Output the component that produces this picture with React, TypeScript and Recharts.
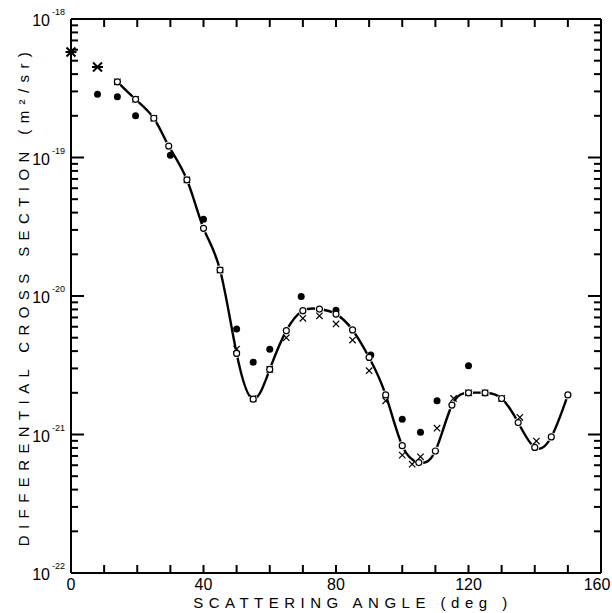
import { ComposedChart, Line, Scatter, XAxis, YAxis } from 'recharts'

// open circles (these carry the smooth curve)
const openAngle = [14, 19.5, 25, 29.5, 35, 40, 45, 50, 55, 60, 65, 70, 75, 80, 85, 90, 95, 100, 105, 110, 115, 120, 125, 130, 135, 140, 145, 150]
const openSigma = [3.52e-19, 2.63e-19, 1.92e-19, 1.21e-19, 6.9e-20, 3.08e-20, 1.54e-20, 3.85e-21, 1.8e-21, 2.95e-21, 5.62e-21, 7.83e-21, 8.05e-21, 7.4e-21, 5.69e-21, 3.6e-21, 1.93e-21, 8.3e-22, 6.27e-22, 7.6e-22, 1.63e-21, 2.0e-21, 2.0e-21, 1.82e-21, 1.22e-21, 8.07e-22, 9.6e-22, 1.93e-21]

// filled dots
const dotAngle = [8, 14, 19.5, 30, 40, 50, 55, 60, 69.5, 80, 90.5, 100, 105.5, 110.5, 120]
const dotSigma = [2.86e-19, 2.75e-19, 2.0e-19, 1.04e-19, 3.58e-20, 5.78e-21, 3.33e-21, 4.12e-21, 9.9e-21, 7.9e-21, 3.75e-21, 1.29e-21, 1.04e-21, 1.75e-21, 3.13e-21]

// crosses
const crossAngle = [14, 19.5, 25, 35, 45, 50, 55, 60, 65, 70, 75, 80, 85, 90, 95, 100, 103, 105.5, 110.5, 115.5, 120, 125, 130, 135.5, 140.5]
const crossSigma = [3.52e-19, 2.63e-19, 1.92e-19, 6.9e-20, 1.54e-20, 4.14e-21, 1.82e-21, 2.95e-21, 5.0e-21, 6.9e-21, 7.2e-21, 6.28e-21, 4.81e-21, 2.89e-21, 1.75e-21, 7.1e-22, 6.1e-22, 6.9e-22, 1.11e-21, 1.82e-21, 2.0e-21, 2.0e-21, 1.82e-21, 1.33e-21, 8.97e-22]

// asterisks at small angles
const starAngle = [0, 8]
const starSigma = [5.78e-19, 4.5e-19]

const xTicks = [0, 10, 20, 30, 40, 50, 60, 70, 80, 90, 100, 110, 120, 130, 140, 150, 160]
const xLabels = [0, 40, 80, 120, 160]
const decades = [1e-22, 1e-21, 1e-20, 1e-19]
const mantissas = [1, 2, 3, 4, 5, 6, 7, 8, 9]
const yTicks = [...decades.flatMap(d => mantissas.map(m => m * d)), 1e-18]

const xTitle = 'SCATTERING ANGLE (deg )'
const yTitle = 'DIFFERENTIAL CROSS SECTION (m²/sr)'

const zip = (xs: number[], ys: number[]) => xs.map((x, i) => ({ x, y: ys[i] }))
const openData = zip(openAngle, openSigma)
const dotData = zip(dotAngle, dotSigma)
const crossData = zip(crossAngle, crossSigma)
const starData = zip(starAngle, starSigma)

const INK = 'black'
const FONT = 'Liberation Sans, Arial, sans-serif'
const FRAME = { stroke: 'black', strokeWidth: 2 }

const isDecade = (v: number) => {
  const l = Math.log10(v)
  return Math.abs(l - Math.round(l)) < 1e-6
}

function LeftTick(props: any) {
  const x = Number(props.x)
  const y = Number(props.y)
  const v = props.payload.value
  const major = isDecade(v)
  const e = Math.round(Math.log10(v))
  const tx = x - 42
  return (
    <g>
      <line x1={x} x2={x + (major ? 13 : 7)} y1={y} y2={y} stroke="black" strokeWidth={2} />
      {major && (
        <text x={x - 21} y={y + 7} textAnchor="end" fontSize={16} fill={INK} fontFamily={FONT}>
          10
        </text>
      )}
      {major && (
        <text x={x - 19} y={y - 4} fontSize={9} fill={INK} fontFamily={FONT}>
          {'-' + -e}
        </text>
      )}
      {e === -20 && major && (
        <text
          x={tx}
          y={y}
          transform={`rotate(-90 ${tx} ${y})`}
          textAnchor="middle"
          fontSize={15}
          letterSpacing={6.4}
          fill={INK}
          fontFamily={FONT}
        >
          {yTitle}
        </text>
      )}
    </g>
  )
}

function RightTick(props: any) {
  const x = Number(props.x)
  const y = Number(props.y)
  const major = isDecade(props.payload.value)
  return <line x1={x - (major ? 13 : 7)} x2={x} y1={y} y2={y} stroke="black" strokeWidth={2} />
}

function BottomTick(props: any) {
  const x = Number(props.x)
  const y = Number(props.y)
  const v = props.payload.value
  return (
    <g>
      <line x1={x} x2={x} y1={y} y2={y - 8} stroke="black" strokeWidth={2} />
      {xLabels.includes(v) && (
        <text x={v === 160 ? x - 4 : x} y={y + 17} textAnchor="middle" fontSize={16} fill={INK} fontFamily={FONT}>
          {v}
        </text>
      )}
      {v === 80 && (
        <text x={x + 17} y={y + 35} textAnchor="middle" fontSize={15} letterSpacing={5.5} fill={INK} fontFamily={FONT}>
          {xTitle}
        </text>
      )}
    </g>
  )
}

function TopTick(props: any) {
  const x = Number(props.x)
  const y = Number(props.y)
  return <line x1={x} x2={x} y1={y} y2={y + 8} stroke="black" strokeWidth={2} />
}

const OpenCircle = ({ cx, cy }: any) => (
  <circle cx={cx} cy={cy} r={3} fill="#fff" stroke={INK} strokeWidth={1.2} />
)
const FilledDot = ({ cx, cy }: any) => <circle cx={cx} cy={cy} r={3.5} fill={INK} />
const Cross = ({ cx, cy }: any) => {
  const s = 3.2
  return (
    <path
      d={`M${cx - s},${cy - s}L${cx + s},${cy + s}M${cx - s},${cy + s}L${cx + s},${cy - s}`}
      stroke={INK}
      strokeWidth={1.2}
      fill="none"
    />
  )
}
const Star = ({ cx, cy }: any) => {
  const s = 4.5
  return (
    <path
      d={`M${cx - s},${cy - s}L${cx + s},${cy + s}M${cx - s},${cy + s}L${cx + s},${cy - s}M${cx - s - 1},${cy}L${cx + s + 1},${cy}`}
      stroke={INK}
      strokeWidth={2}
      fill="none"
    />
  )
}

export default function App() {
  return (
    <div style={{ position: 'absolute', left: 0, top: 0 }}>
      <ComposedChart width={612} height={613} margin={{ top: 0, right: 10, bottom: 0, left: 0 }}>
        <XAxis
          dataKey="x"
          type="number"
          domain={[0, 160]}
          ticks={xTicks}
          interval={0}
          height={40}
          tickSize={0}
          tickMargin={0}
          axisLine={FRAME}
          tick={<BottomTick />}
        />
        <XAxis
          xAxisId="top"
          dataKey="x"
          orientation="top"
          type="number"
          domain={[0, 160]}
          ticks={xTicks}
          interval={0}
          height={19}
          tickSize={0}
          tickMargin={0}
          axisLine={FRAME}
          tick={<TopTick />}
        />
        <YAxis
          dataKey="y"
          scale="log"
          type="number"
          domain={[1e-22, 1e-18]}
          ticks={yTicks}
          interval={0}
          width={71}
          tickSize={0}
          tickMargin={0}
          axisLine={FRAME}
          tick={<LeftTick />}
        />
        <YAxis
          yAxisId="r"
          dataKey="y"
          orientation="right"
          scale="log"
          type="number"
          domain={[1e-22, 1e-18]}
          ticks={yTicks}
          interval={0}
          width={1}
          tickSize={0}
          tickMargin={0}
          axisLine={FRAME}
          tick={<RightTick />}
        />
        {/* open circles also tied to the top and right frame axes so those get a scale */}
        <Scatter data={openData} dataKey="y" xAxisId="top" yAxisId="r" fill="#fff" isAnimationActive={false} />
        <Scatter data={dotData} dataKey="y" shape={FilledDot} isAnimationActive={false} />
        <Line
          data={openData}
          dataKey="y"
          type="natural"
          stroke={INK}
          strokeWidth={2.4}
          dot={false}
          isAnimationActive={false}
        />
        <Scatter data={crossData} dataKey="y" shape={Cross} isAnimationActive={false} />
        <Scatter data={starData} dataKey="y" shape={Star} isAnimationActive={false} />
        <Scatter data={openData} dataKey="y" shape={OpenCircle} isAnimationActive={false} />
      </ComposedChart>
    </div>
  )
}
